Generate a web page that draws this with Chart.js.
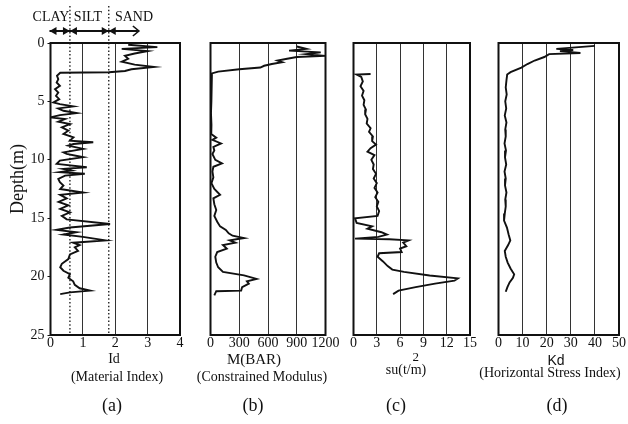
<!DOCTYPE html>
<html><head><meta charset="utf-8">
<script src="https://cdn.jsdelivr.net/npm/chart.js@4.4.1/dist/chart.umd.min.js"></script>
<style>
body{margin:0;background:#fff;width:628px;height:424px;overflow:hidden;position:relative;font-family:"Liberation Serif",serif;color:#111}
canvas{position:absolute;left:0;top:0}
.t{position:absolute;white-space:nowrap;transform:translate(-50%,-50%);font-size:14px;line-height:1}
.p{font-size:18px}
</style></head><body>
<canvas id="ca" width="628" height="424"></canvas>
<canvas id="cb" width="628" height="424"></canvas>
<canvas id="cc" width="628" height="424"></canvas>
<canvas id="cd" width="628" height="424"></canvas>

<div class="t" style="left:51px;top:17px">CLAY</div>
<div class="t" style="left:88px;top:17px">SILT</div>
<div class="t" style="left:134px;top:17px">SAND</div>
<div class="t" style="left:17px;top:179px;transform:translate(-50%,-50%) rotate(-90deg);font-size:18px">Depth(m)</div>

<div class="t" style="left:114px;top:359px">Id</div>
<div class="t" style="left:117px;top:377px">(Material Index)</div>
<div class="t p" style="left:112px;top:405px">(a)</div>

<div class="t" style="left:254px;top:359px;font-size:15px">M(BAR)</div>
<div class="t" style="left:262px;top:377px">(Constrained Modulus)</div>
<div class="t p" style="left:253px;top:405px">(b)</div>

<div class="t" style="left:406px;top:370px">su(t/m<span style="display:inline-block;width:0;position:relative;top:-13px;left:-9px;font-size:13px">2</span>)</div>
<div class="t p" style="left:396px;top:405px">(c)</div>

<div class="t" style="left:556px;top:360px;font-family:'Liberation Sans',sans-serif;font-size:14px">Kd</div>
<div class="t" style="left:550px;top:373px">(Horizontal Stress Index)</div>
<div class="t p" style="left:557px;top:405px">(d)</div>

<script>
// ---- data ----
const depthTicks = [0, 5, 10, 15, 20, 25];
const idTicks = [0, 1, 2, 3, 4];
const mTicks = [0, 300, 600, 900, 1200];
const suTicks = [0, 3, 6, 9, 12, 15];
const kdTicks = [0, 10, 20, 30, 40, 50];
const idBoundaries = [0.6, 1.8]; // clay/silt, silt/sand

const idDepth = [0.15,0.35,0.5,0.7,0.9,1.1,1.35,1.6,1.85,2.05,2.25,2.4,2.5,2.55,2.8,3.1,3.38,3.67,3.95,4.24,4.52,4.81,5.09,5.23,5.43,5.6,5.8,6.0,6.17,6.37,6.51,6.74,6.94,7.22,7.51,7.79,8.08,8.36,8.5,8.65,8.79,9.07,9.36,9.5,9.78,10.07,10.35,10.64,10.78,10.92,11.06,11.2,11.35,11.63,11.92,12.2,12.5,12.8,13.0,13.3,13.6,13.9,14.2,14.5,14.8,15.1,15.5,15.8,16.0,16.2,16.4,16.6,16.9,17.1,17.3,17.5,17.8,18.1,18.5,18.9,19.2,19.5,19.8,20.1,20.4,20.7,21.0,21.2,21.35,21.5];
const idValue = [2.4,3.3,2.2,3.0,2.6,2.3,2.4,2.2,2.6,3.2,2.5,2.3,1.8,0.3,0.2,0.24,0.19,0.29,0.14,0.24,0.17,0.27,0.09,0.29,0.71,0.24,0.4,0.81,0.29,0.0,0.45,0.24,0.6,0.35,0.55,0.4,0.71,0.6,1.32,0.71,0.55,1.01,0.4,0.5,1.01,0.29,0.19,1.12,0.4,0.65,0.29,1.06,0.45,0.24,0.29,0.4,0.3,1.01,0.3,0.5,0.25,0.55,0.3,0.6,0.35,0.5,1.84,0.6,0.19,0.8,0.4,1.0,1.7,0.7,0.9,0.75,0.85,0.6,0.55,0.35,0.3,0.4,0.6,0.55,0.7,0.75,0.9,1.22,0.6,0.3];

const mDepth = [0.3,0.5,0.65,0.8,0.95,1.1,1.2,1.35,1.5,1.65,1.8,1.95,2.1,2.25,2.45,2.6,3.0,4.0,5.0,6.0,7.0,7.8,8.1,8.3,8.6,8.9,9.2,9.5,10.0,10.3,10.6,11.0,11.5,12.0,12.5,13.0,13.3,13.8,14.3,14.8,15.3,15.7,16.0,16.3,16.5,16.7,16.9,17.1,17.3,17.6,17.9,18.3,18.8,19.2,19.6,19.9,20.2,20.4,20.6,20.9,21.2,21.25,21.6];
const mValue = [900,1000,820,1150,1000,1200,900,800,700,750,640,560,520,300,80,15,10,8,10,5,10,8,60,20,110,30,40,20,50,120,30,20,30,10,40,100,30,40,60,40,70,100,160,190,230,350,200,260,130,170,70,50,60,80,130,350,480,380,400,330,320,60,40];

const suDepth = [2.65,2.7,2.9,3.3,3.7,4.1,4.5,4.9,5.3,5.7,6.1,6.5,6.9,7.3,7.6,8.0,8.4,8.7,9.0,9.3,9.6,10.0,10.4,10.8,11.2,11.6,12.0,12.4,12.8,13.2,13.6,14.0,14.4,14.8,15.0,15.4,15.7,15.9,16.2,16.4,16.6,16.75,16.8,16.9,17.1,17.4,17.6,17.9,18.0,18.3,18.7,19.1,19.4,19.6,19.9,20.15,20.35,20.6,20.9,21.2,21.5];
const suValue = [2.2,0.4,1.0,1.2,0.9,1.3,1.1,1.4,1.3,1.6,1.5,1.8,1.7,2.2,2.0,2.5,2.4,2.9,2.2,1.8,2.7,2.3,2.6,2.5,2.9,2.6,3.0,2.7,3.1,2.8,3.2,3.0,3.3,3.1,0.2,0.4,2.4,1.8,3.6,4.3,3.2,0.2,4.6,7.1,6.4,6.8,6.0,6.2,3.3,3.1,3.8,4.4,5.0,6.5,9.8,13.45,13.0,10.5,8.0,5.8,5.1];

const kdDepth = [0.25,0.5,0.6,0.7,0.85,0.95,1.2,1.5,1.8,2.1,2.5,2.7,3.2,3.8,4.4,5.0,5.6,6.2,6.8,7.4,8.0,8.6,9.2,9.8,10.4,11.0,11.6,12.2,12.8,13.4,14.0,14.6,15.2,15.8,16.4,16.9,17.3,17.8,18.3,18.8,19.3,19.8,20.1,20.5,20.9,21.3];
const kdValue = [40,24,31,25.5,34,21,19,15,12,9.5,5,3.6,3.3,3.0,3.4,2.8,3.2,2.6,3.3,2.8,3.0,2.5,3.1,2.7,3.2,2.5,3.0,2.7,3.3,2.8,3.0,2.6,2.3,3.5,4.2,4.9,4.0,2.6,3.0,3.8,5.0,6.5,6.0,4.6,3.7,3.0];

// ---- drawing ----
const W = 628, H = 424, XH = 20, YW = 20;
const FONT = {family: '"Liberation Serif", serif', size: 14};
const INK = '#111';

const boxPlugin = {
  id: 'box',
  afterDatasetsDraw(chart) {
    const {ctx, chartArea: a} = chart;
    ctx.save();
    ctx.strokeStyle = INK;
    ctx.lineWidth = 2;
    ctx.strokeRect(a.left, a.top, a.right - a.left, a.bottom - a.top);
    ctx.restore();
  }
};

const soilPlugin = {
  id: 'soil',
  beforeDatasetsDraw(chart) {
    const {ctx, chartArea: a, scales: {x}} = chart;
    ctx.save();
    ctx.strokeStyle = INK;
    ctx.lineWidth = 1.3;
    ctx.setLineDash([1.5, 2.2]);
    idBoundaries.forEach(v => {
      const px = x.getPixelForValue(v);
      ctx.beginPath(); ctx.moveTo(px, 6); ctx.lineTo(px, a.bottom); ctx.stroke();
    });
    ctx.restore();
  },
  afterDraw(chart) {
    const {ctx, scales: {x}} = chart;
    const y = 31;
    const x0 = x.getPixelForValue(0) - 1, x1 = x.getPixelForValue(idBoundaries[0]),
          x2 = x.getPixelForValue(idBoundaries[1]), x3 = x.getPixelForValue(2.73);
    ctx.save();
    ctx.strokeStyle = INK; ctx.fillStyle = INK; ctx.lineWidth = 2;
    ctx.beginPath(); ctx.moveTo(x0, y); ctx.lineTo(x3 - 1, y); ctx.stroke();
    const head = (tip, dir) => {
      ctx.beginPath(); ctx.moveTo(tip, y); ctx.lineTo(tip - dir * 7, y - 4);
      ctx.lineTo(tip - dir * 7, y + 4); ctx.closePath(); ctx.fill();
    };
    head(x0, -1); head(x1, 1); head(x1, -1); head(x2, 1); head(x2, -1);
    ctx.lineWidth = 1.6;
    ctx.beginPath(); ctx.moveTo(x3 - 6, y - 5); ctx.lineTo(x3, y); ctx.lineTo(x3 - 6, y + 5); ctx.stroke();
    ctx.restore();
  }
};

function makePanel(id, depth, values, xTicks, area, showY, extra) {
  const pts = depth.map((d, i) => ({x: values[i], y: d}));
  new Chart(document.getElementById(id), {
    type: 'scatter',
    data: {datasets: [{data: pts, showLine: true, borderColor: INK, borderWidth: 1.9,
      pointRadius: 0, tension: 0, fill: false}]},
    options: {
      responsive: false, animation: false, events: [],
      layout: {padding: {left: area.left - (showY ? YW : 0), right: W - area.right,
        top: area.top, bottom: H - area.bottom - XH}},
      plugins: {legend: {display: false}, tooltip: {enabled: false}},
      scales: {
        x: {type: 'linear', position: 'bottom', min: xTicks[0], max: xTicks[xTicks.length - 1],
          afterBuildTicks: s => { s.ticks = xTicks.map(v => ({value: v})); },
          afterFit: s => { s.height = XH; s.paddingLeft = 0; s.paddingRight = 0; },
          grid: {color: '#333', lineWidth: 1, drawTicks: false},
          border: {display: false},
          ticks: {autoSkip: false, maxRotation: 0, padding: 0, color: INK, font: FONT,
            callback: v => String(v)}},
        y: {type: 'linear', display: showY, reverse: true, min: depthTicks[0],
          max: depthTicks[depthTicks.length - 1],
          afterBuildTicks: s => { s.ticks = depthTicks.map(v => ({value: v})); },
          afterFit: s => { s.width = YW; s.paddingTop = 0; s.paddingBottom = 0; },
          grid: {display: true, drawOnChartArea: false, drawTicks: true, tickLength: 3, color: INK},
          border: {display: false},
          ticks: {autoSkip: false, padding: 3, color: INK, font: FONT, callback: v => String(v)}}
      }
    },
    plugins: extra ? [boxPlugin, extra] : [boxPlugin]
  });
}

makePanel('ca', idDepth, idValue, idTicks, {left: 50.5, right: 180, top: 43, bottom: 335}, true, soilPlugin);
makePanel('cb', mDepth, mValue, mTicks, {left: 190.5, right: 325.5, top: 43, bottom: 335}, false);
makePanel('cc', suDepth, suValue, suTicks, {left: 333.5, right: 470, top: 43, bottom: 335}, false);
makePanel('cd', kdDepth, kdValue, kdTicks, {left: 478.5, right: 619, top: 43, bottom: 335}, false);
</script>
</body></html>
